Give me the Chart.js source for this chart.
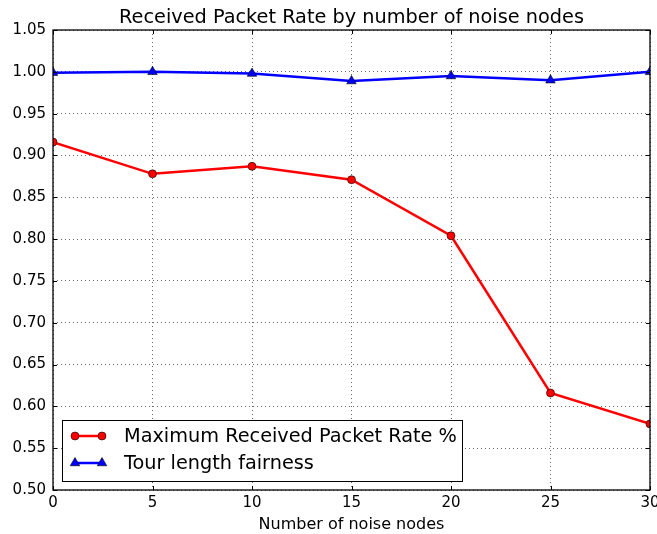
<!DOCTYPE html>
<html>
<head>
<meta charset="utf-8">
<script src="https://cdn.jsdelivr.net/npm/chart.js@4/dist/chart.umd.min.js"></script>
<style>
  html, body { margin: 0; padding: 0; background: #fff; }
  canvas { display: block; }
</style>
</head>
<body>
<canvas id="noiseChart" width="657" height="534"></canvas>
<script>
// --- Data ---
const noiseNodes = [0, 5, 10, 15, 20, 25, 30];
const packetRate = [0.916, 0.878, 0.887, 0.871, 0.804, 0.616, 0.579];
const fairness = [0.999, 1.000, 0.998, 0.989, 0.995, 0.990, 1.000];

const xTicks = [0, 5, 10, 15, 20, 25, 30];
const yTicks = [0.50, 0.55, 0.60, 0.65, 0.70, 0.75, 0.80, 0.85, 0.90, 0.95, 1.00, 1.05];

const chartTitle = 'Received Packet Rate by number of noise nodes';
const FONT = '"DejaVu Sans", sans-serif';

const toPoints = (ys) => noiseNodes.map((x, i) => ({ x: x, y: ys[i] }));

// Frame with inward ticks on all four sides, title over the plot, and the boxed legend
const axesFrame = {
    id: 'axesFrame',
    afterDatasetsDraw(chart) {
        const { ctx, chartArea: a, scales: { x, y } } = chart;
        ctx.save();
        ctx.strokeStyle = '#000';
        ctx.lineWidth = 1;
        ctx.beginPath();
        xTicks.forEach(v => {
            const px = Math.round(x.getPixelForValue(v)) + 0.5;
            ctx.moveTo(px, a.bottom); ctx.lineTo(px, a.bottom - 4);
            ctx.moveTo(px, a.top); ctx.lineTo(px, a.top + 4);
        });
        yTicks.forEach(v => {
            const py = Math.round(y.getPixelForValue(v)) + 0.5;
            ctx.moveTo(a.left, py); ctx.lineTo(a.left + 4, py);
            ctx.moveTo(a.right, py); ctx.lineTo(a.right - 4, py);
        });
        ctx.stroke();
        ctx.lineWidth = 1.3;
        ctx.strokeRect(a.left, a.top, a.right - a.left, a.bottom - a.top);

        // title, centred over the plot area
        ctx.fillStyle = '#000';
        ctx.font = '19.3px ' + FONT;
        ctx.textAlign = 'center';
        ctx.textBaseline = 'alphabetic';
        ctx.fillText(chartTitle, (a.left + a.right) / 2, a.top - 7);

        // legend box
        const bx = a.left + 9, by = a.bottom - 70, bw = 400, bh = 61;
        ctx.fillStyle = '#fff';
        ctx.fillRect(bx, by, bw, bh);
        ctx.lineWidth = 1;
        ctx.strokeRect(bx + 0.5, by + 0.5, bw, bh);

        ctx.textAlign = 'left';
        ctx.textBaseline = 'middle';
        chart.data.datasets.forEach((ds, i) => {
            const ry = by + 16 + i * 27;
            const x0 = bx + 13, x1 = bx + 40;
            ctx.strokeStyle = ds.borderColor;
            ctx.lineWidth = 2.5;
            ctx.beginPath(); ctx.moveTo(x0, ry); ctx.lineTo(x1, ry); ctx.stroke();
            [x0, x1].forEach(mx => {
                ctx.fillStyle = ds.pointBackgroundColor;
                ctx.strokeStyle = '#000';
                ctx.lineWidth = 0.6;
                ctx.beginPath();
                if (ds.pointStyle === 'triangle') {
                    const r = 5.5;
                    ctx.moveTo(mx, ry - r);
                    ctx.lineTo(mx + r * 0.866, ry + r * 0.5);
                    ctx.lineTo(mx - r * 0.866, ry + r * 0.5);
                    ctx.closePath();
                } else {
                    ctx.arc(mx, ry, 4, 0, Math.PI * 2);
                }
                ctx.fill(); ctx.stroke();
            });
            ctx.fillStyle = '#000';
            ctx.fillText(ds.label, bx + 62, ry + 1);
        });
        ctx.restore();
    }
};

new Chart(document.getElementById('noiseChart'), {
    type: 'line',
    data: {
        datasets: [
            {
                label: 'Maximum Received Packet Rate %',
                data: toPoints(packetRate),
                borderColor: '#ff0000',
                borderWidth: 2.5,
                pointStyle: 'circle',
                pointRadius: 4,
                pointBackgroundColor: '#ff0000',
                pointBorderColor: '#000',
                pointBorderWidth: 0.6,
                tension: 0
            },
            {
                label: 'Tour length fairness',
                data: toPoints(fairness),
                borderColor: '#0000ff',
                borderWidth: 2.5,
                pointStyle: 'triangle',
                pointRadius: 5.5,
                pointBackgroundColor: '#0000ff',
                pointBorderColor: '#000',
                pointBorderWidth: 0.6,
                tension: 0
            }
        ]
    },
    options: {
        responsive: false,
        animation: false,
        devicePixelRatio: 1,
        layout: { padding: { left: 0, right: 7, top: 30, bottom: 0 } },
        scales: {
            x: {
                type: 'linear',
                min: 0,
                max: 30,
                afterBuildTicks: (scale) => { scale.ticks = xTicks.map(v => ({ value: v })); },
                afterFit: (scale) => { scale.height = 44; scale.paddingLeft = 0; scale.paddingRight = 0; },
                grid: { color: '#000', lineWidth: 0.6, drawTicks: false },
                border: { display: false, dash: [1, 3] },
                ticks: { color: '#000', padding: 4, font: { family: FONT, size: 15 } },
                title: {
                    display: true,
                    text: 'Number of noise nodes',
                    color: '#000',
                    padding: { top: 2, bottom: 0 },
                    font: { family: FONT, size: 16 }
                }
            },
            y: {
                min: 0.50,
                max: 1.05,
                afterBuildTicks: (scale) => { scale.ticks = yTicks.map(v => ({ value: v })); },
                afterFit: (scale) => { scale.width = 53; scale.paddingTop = 0; scale.paddingBottom = 0; },
                grid: { color: '#000', lineWidth: 0.6, drawTicks: false },
                border: { display: false, dash: [1, 3] },
                ticks: {
                    color: '#000',
                    padding: 7,
                    font: { family: FONT, size: 15 },
                    callback: (v) => Number(v).toFixed(2)
                }
            }
        },
        plugins: {
            legend: { display: false },
            tooltip: { enabled: false },
            title: { display: false }
        }
    },
    plugins: [axesFrame]
});
</script>
</body>
</html>
